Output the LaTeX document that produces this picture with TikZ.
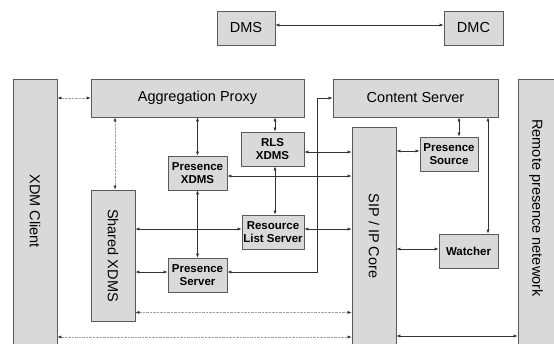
\documentclass[tikz,border=0pt]{standalone}
\usepackage{fontspec}
\setmainfont{Liberation Sans}
\usetikzlibrary{arrows.meta,calc}
\definecolor{boxfill}{HTML}{D9D9D9}
\definecolor{boxline}{HTML}{5A5A5A}
\definecolor{lineclr}{HTML}{333333}
\definecolor{dashclr}{HTML}{A0A0A0}
\begin{document}
\begin{tikzpicture}[x=1pt,y=-1pt,
  box/.style={draw=boxline, fill=boxfill, line width=0.8pt, inner sep=0pt},
  big/.style={font=\fontsize{14.5}{17}\selectfont},
  small/.style={font=\bfseries\fontsize{11.5}{13}\selectfont, align=center},
  tip/.style={Latex[length=4pt,width=3.2pt,color=lineclr]},
  conn/.style={draw=lineclr, line width=0.6pt, {Latex[length=4pt,width=3.2pt,color=lineclr]}-{Latex[length=4pt,width=3.2pt,color=lineclr]}},
  dconn/.style={conn, draw=dashclr, dash pattern=on 2.5pt off 1pt}]
\useasboundingbox (0,0) rectangle (554,343);
\clip (0,0) rectangle (554,343);
% top boxes
\node[box, big, minimum width=58pt, minimum height=34pt] (dms) at (246,28) {DMS};
\node[box, big, minimum width=59pt, minimum height=34pt] (dmc) at (473.5,28) {DMC};
% large boxes
\node[box, minimum width=44pt, minimum height=268pt] (xdm) at (35,213) {};
\node[big, rotate=-90] (xdmt) at (35,211) {XDM Client};
\node[box, big, minimum width=213pt, minimum height=38pt] (agg) at (197.5,98) {Aggregation Proxy};
\node[box, big, minimum width=165pt, minimum height=38pt] (cs) at (415.5,98) {Content Server};
\node[box, minimum width=40pt, minimum height=268pt] (rem) at (538,213) {};
\node[big, rotate=-90] (remt) at (536,208) {Remote presence netework};
\node[box, minimum width=44pt, minimum height=131pt] (shx) at (113,255.5) {};
\node[big, rotate=-90] (shxt) at (113,255.5) {Shared XDMS};
\node[box, minimum width=44pt, minimum height=220pt] (sip) at (374,237) {};
\node[big, rotate=-90] (sipt) at (374,236) {SIP / IP Core};
% small boxes
\node[box, small, minimum width=59pt, minimum height=34pt] (pxd) at (197.5,173) {Presence\\XDMS};
\node[box, small, minimum width=63pt, minimum height=34pt] (rlx) at (272.5,149) {RLS\\XDMS};
\node[box, small, minimum width=62pt, minimum height=34pt] (rls) at (273,232) {Resource\\List Server};
\node[box, small, minimum width=59pt, minimum height=34pt] (psv) at (197.5,275) {Presence\\Server};
\node[box, small, minimum width=58pt, minimum height=34pt] (psc) at (449,154) {Presence\\Source};
\node[box, small, minimum width=59pt, minimum height=34pt] (wat) at (468.5,251) {Watcher};
% connectors
\draw[conn] ([yshift=3pt]dms.east) -- ([yshift=3pt]dmc.west);
\draw[dconn] (agg.west -| xdm.east) -- (agg.west);
\draw[dconn] ([xshift=2pt]shx.north) -- ([xshift=2pt]shx.north |- agg.south);
\draw[conn] (pxd.north) -- (pxd.north |- agg.south);
\draw[conn] ([xshift=2.5pt]rlx.north) -- ([xshift=2.5pt]rlx.north |- agg.south);
\draw[conn] ([yshift=-3pt]rlx.east) -- ([yshift=-3pt]rlx.east -| sip.west);
\draw[conn] ([yshift=-3pt]pxd.east) -- ([yshift=-3pt]pxd.east -| sip.west);
\draw[conn] ([xshift=2pt]rls.north) -- ([xshift=2pt]rls.north |- rlx.south);
\draw[conn] (psv.north) -- (psv.north |- pxd.south);
\draw[conn] ([yshift=3pt]rls.west) -- ([yshift=3pt]rls.west -| shx.east);
\draw[conn] ([yshift=3pt]rls.east) -- ([yshift=3pt]rls.east -| sip.west);
\draw[conn] ([yshift=3pt]psv.west) -- ([yshift=3pt]psv.west -| shx.east);
\draw[conn] ([yshift=3pt]psv.east) -| ([xshift=-15pt]cs.west) -- (cs.west);
\draw[dconn] ([yshift=9pt]shx.south east) -- ([yshift=9pt]shx.south east -| sip.west);
\draw[dconn] ([yshift=-124pt]xdm.east) -- ([yshift=-124pt]xdm.east -| sip.west);
\draw[conn] ([yshift=-99pt]sip.east) -- ([yshift=-99pt]sip.east -| rem.west);
\draw[conn] ([yshift=3pt]psc.west) -- ([yshift=3pt]psc.west -| sip.east);
\draw[conn] ([xshift=10pt]psc.north) -- ([xshift=10pt]psc.north |- cs.south);
\draw[conn] ([xshift=19.5pt]wat.north) -- ([xshift=19.5pt]wat.north |- cs.south);
\draw[conn] ([yshift=2pt]wat.west) -- ([yshift=2pt]wat.west -| sip.east);
\end{tikzpicture}
\end{document}
